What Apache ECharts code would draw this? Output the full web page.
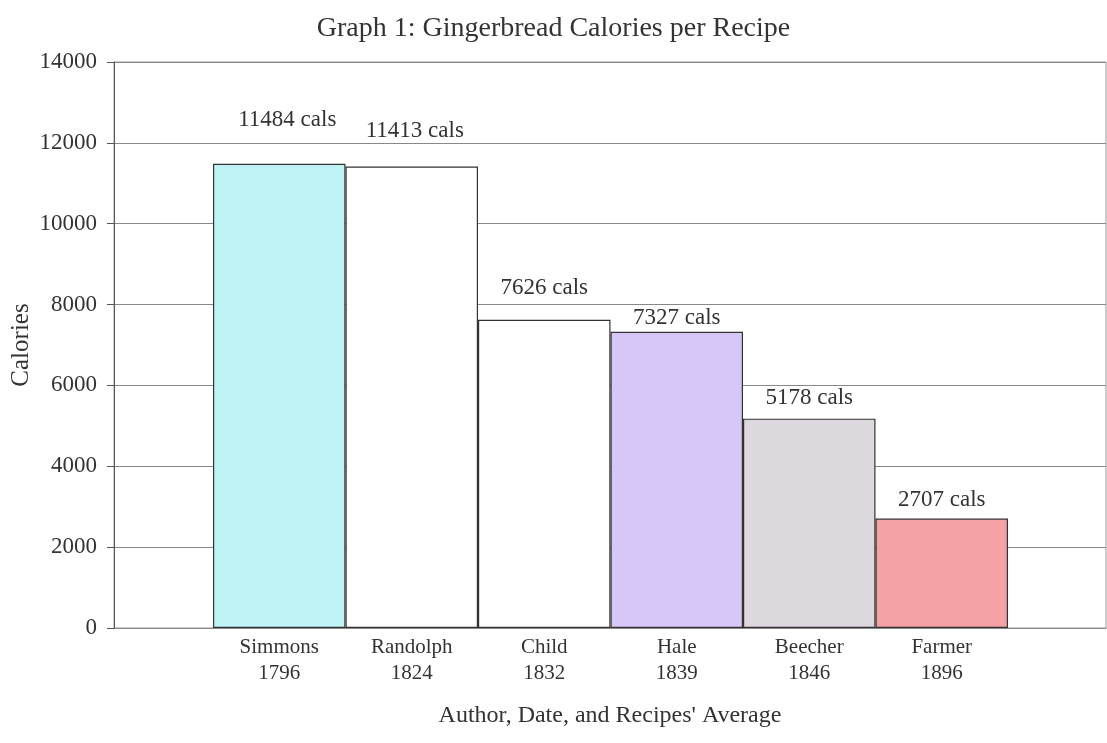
<!DOCTYPE html>
<html>
<head>
<meta charset="utf-8">
<script src="https://cdn.jsdelivr.net/npm/echarts@6/dist/echarts.min.js"></script>
<style>
  html, body { margin: 0; padding: 0; background: #fff; }
  #chart { width: 1107px; height: 743px; }
</style>
</head>
<body>
<div id="chart"></div>
<script>
// Gingerbread recipes: author, year and average calories per recipe
const authors = ['Simmons', 'Randolph', 'Child', 'Hale', 'Beecher', 'Farmer'];
const years = ['1796', '1824', '1832', '1839', '1846', '1896'];
const calories = [11484, 11413, 7626, 7327, 5178, 2707];
const yTicks = [0, 2000, 4000, 6000, 8000, 10000, 12000, 14000];

const fills = ['#bff3f6', '#ffffff', '#ffffff', '#d6c7f8', '#ddd7de', '#f5a2a7'];
const labelOffsets = [[8, -27], [3, -19], [0, -15], [0, 3], [0, -4], [0, -2]];

const serif = '"Liberation Serif", "DejaVu Serif", serif';

const chart = echarts.init(document.getElementById('chart'), null, { renderer: 'canvas' });

chart.setOption({
  animation: false,
  backgroundColor: '#ffffff',
  title: {
    text: 'Graph 1: Gingerbread Calories per Recipe',
    left: 'center',
    top: 10,
    textStyle: { fontFamily: serif, fontSize: 28, fontWeight: 'normal', color: '#333' }
  },
  grid: [
    { left: 114, right: 1, top: 62, bottom: 115, outerBoundsMode: 'none', containLabel: false,
      show: true, borderColor: '#999', borderWidth: 1, backgroundColor: 'transparent' },
    { left: 213, right: 99, top: 62, bottom: 115, outerBoundsMode: 'none', containLabel: false }
  ],
  xAxis: [
    {
      gridIndex: 0, type: 'category', data: [''],
      axisLine: { show: true, lineStyle: { color: '#888' } },
      axisTick: { show: false }, axisLabel: { show: false }, splitLine: { show: false },
      name: "Author, Date, and Recipes' Average",
      nameLocation: 'middle', nameGap: 76, nameMoveOverlap: false,
      nameTextStyle: { fontFamily: serif, fontSize: 24, color: '#333' }
    },
    {
      gridIndex: 1, type: 'category', data: authors,
      axisLine: { show: false }, axisTick: { show: false },
      axisLabel: {
        margin: 6, interval: 0,
        fontFamily: serif, fontSize: 21, color: '#333', lineHeight: 26,
        formatter: (v, i) => v + '\n' + years[i]
      }
    }
  ],
  yAxis: [
    {
      gridIndex: 0, type: 'value', min: yTicks[0], max: yTicks[yTicks.length - 1], interval: 2000,
      axisLine: { show: true, lineStyle: { color: '#555' } },
      axisTick: { show: true, length: 7, lineStyle: { color: '#555' } },
      axisLabel: { margin: 17, fontFamily: serif, fontSize: 23, color: '#333', formatter: v => String(v) },
      splitLine: { show: true, lineStyle: { color: '#888', width: 1 } },
      name: 'Calories', nameLocation: 'middle', nameGap: 80, nameMoveOverlap: false,
      nameTextStyle: { fontFamily: serif, fontSize: 25, color: '#333' }
    },
    {
      gridIndex: 1, type: 'value', min: yTicks[0], max: yTicks[yTicks.length - 1], interval: 2000,
      show: false, splitLine: { show: false }
    }
  ],
  series: [
    {
      type: 'bar', xAxisIndex: 1, yAxisIndex: 1,
      barCategoryGap: '0%',
      data: calories.map((v, i) => ({
        value: v,
        itemStyle: { color: fills[i] },
        label: { offset: labelOffsets[i] }
      })),
      itemStyle: { borderColor: '#333', borderWidth: 1.2 },
      label: {
        show: true, position: 'top', distance: 5,
        fontFamily: serif, fontSize: 23, color: '#333',
        formatter: p => p.value + ' cals'
      }
    }
  ]
});
</script>
</body>
</html>
